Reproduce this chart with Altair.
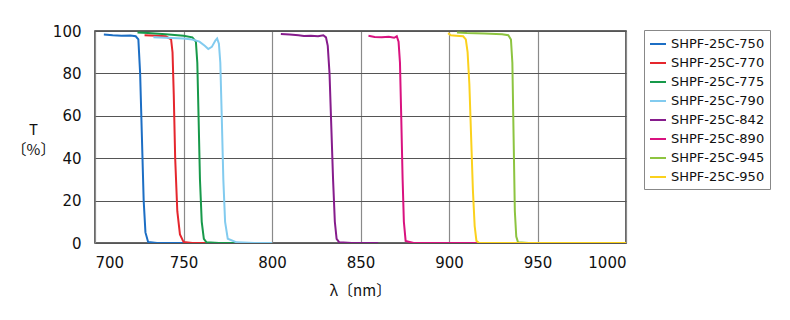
import altair as alt
import pandas as pd

names = ["SHPF-25C-750", "SHPF-25C-770", "SHPF-25C-775", "SHPF-25C-790",
         "SHPF-25C-842", "SHPF-25C-890", "SHPF-25C-945", "SHPF-25C-950"]
colors = ["#1c6ec4", "#e5262d", "#17994a", "#82cbef",
          "#861c8c", "#d9127f", "#8dc440", "#fbd11c"]

wl_750 = [705, 710, 715, 720, 723, 724.5, 725.5, 726.5, 727.5, 728.5, 730, 735, 760]
t_750 = [98.3, 98.0, 97.8, 97.9, 97.5, 96, 80, 50, 20, 5, 0.5, 0, 0]

wl_770 = [728, 735, 740, 742, 743, 743.8, 744.5, 745.3, 746.5, 748, 750, 755, 765]
t_770 = [98.0, 97.8, 97.5, 96.5, 96, 90, 70, 40, 15, 4, 0.5, 0, 0]

wl_775 = [724, 730, 740, 750, 755, 757, 757.8, 758.5, 759.3, 760.3, 761.5, 763, 770, 780]
t_775 = [99.3, 99.0, 98.5, 97.8, 97, 95, 85, 60, 30, 10, 2, 0.3, 0, 0]

wl_790 = [733, 740, 750, 755, 759, 762, 764, 766, 768, 769, 770, 770.8, 771.6, 772.5,
          773.5, 775, 780, 790, 800]
t_790 = [97.0, 96.8, 96.5, 96, 95, 93, 91.5, 92.5, 95.5, 96.5, 94, 85, 60, 30,
         10, 2, 0.3, 0, 0]

wl_842 = [805, 810, 815, 818, 822, 826, 829, 830.5, 831.5, 832.5, 833.5, 834.5, 835.5,
          836.5, 838, 845, 860]
t_842 = [98.6, 98.3, 98.0, 97.6, 97.8, 97.5, 98.0, 97, 93, 80, 55, 30, 10, 2, 0.3, 0, 0]

wl_890 = [854.5, 858, 862, 866, 869, 870.5, 871.5, 872.3, 873, 873.8, 874.5, 875.5,
          880, 900, 920]
t_890 = [97.8, 97.2, 97.0, 97.3, 96.8, 97.5, 95, 85, 60, 30, 10, 1, 0, 0, 0]

wl_945 = [904.5, 910, 920, 930, 933.5, 935, 935.8, 936.5, 937.2, 938, 939, 945, 960]
t_945 = [99.3, 99.0, 98.8, 98.5, 98, 96, 85, 50, 15, 3, 0.3, 0, 0]

wl_950 = [899.5, 901, 904, 908, 909.5, 910.5, 911.5, 912.5, 913.5, 914.5, 915.5, 917,
          930, 1000]
t_950 = [99.0, 98.0, 97.8, 97.5, 96, 90, 75, 50, 25, 8, 1, 0, 0, 0]

x_ticks = [700, 750, 800, 850, 900, 950, 1000]
y_ticks = [0, 20, 40, 60, 80, 100]

series = [(wl_750, t_750), (wl_770, t_770), (wl_775, t_775), (wl_790, t_790),
          (wl_842, t_842), (wl_890, t_890), (wl_945, t_945), (wl_950, t_950)]

rows = []
for name, (wl, t) in zip(names, series):
    for i, (a, b) in enumerate(zip(wl, t)):
        rows.append({"name": name, "wl": a, "T": b, "i": i})
df = pd.DataFrame(rows)

chart = alt.Chart(df).mark_line(strokeWidth=2, clip=True).encode(
    x=alt.X("wl:Q", scale=alt.Scale(domain=[700, 1000], nice=False, zero=False),
            axis=alt.Axis(values=x_ticks, format="d", title="λ〔nm〕", grid=True,
                          gridColor="#8a8a8a", gridWidth=1.2, tickSize=0, labelPadding=12,
                          titleY=47, titleBaseline="middle", titleX=265)),
    y=alt.Y("T:Q", scale=alt.Scale(domain=[0, 100], nice=False),
            axis=alt.Axis(values=y_ticks, format="d", title=["T", "〔%〕"], grid=True,
                          gridColor="#555555", gridWidth=1.2, tickSize=0, labelPadding=14,
                          titleAngle=0, titleX=-62, titleY=98, titleAlign="center",
                          titleBaseline="middle", titleLineHeight=20)),
    color=alt.Color("name:N", scale=alt.Scale(domain=names, range=colors),
                    legend=alt.Legend(title=None, orient="none", legendX=549, legendY=-1,
                                      symbolType="stroke", symbolStrokeWidth=2,
                                      symbolSize=256, labelFont="DejaVu Sans",
                                      labelFontSize=13, labelColor="#111",
                                      labelOffset=4, rowPadding=3, padding=5,
                                      strokeColor="#888888", fillColor="white")),
    order="i:Q",
).properties(
    width=531, height=212,
    padding={"left": 95, "top": 31, "right": 164, "bottom": 77},
    autosize=alt.AutoSizeParams(type="none"),
).configure(
    background="white"
).configure_view(
    stroke="#333333", strokeWidth=1.5
).configure_axis(
    domain=False,
    labelFont="DejaVu Sans", labelFontSize=15, labelColor="#111",
    titleFont="Noto Sans CJK JP", titleFontSize=15, titleFontWeight="normal",
    titleColor="#111",
)

chart.save("out.html", embed_options={"renderer": "svg", "actions": False})
